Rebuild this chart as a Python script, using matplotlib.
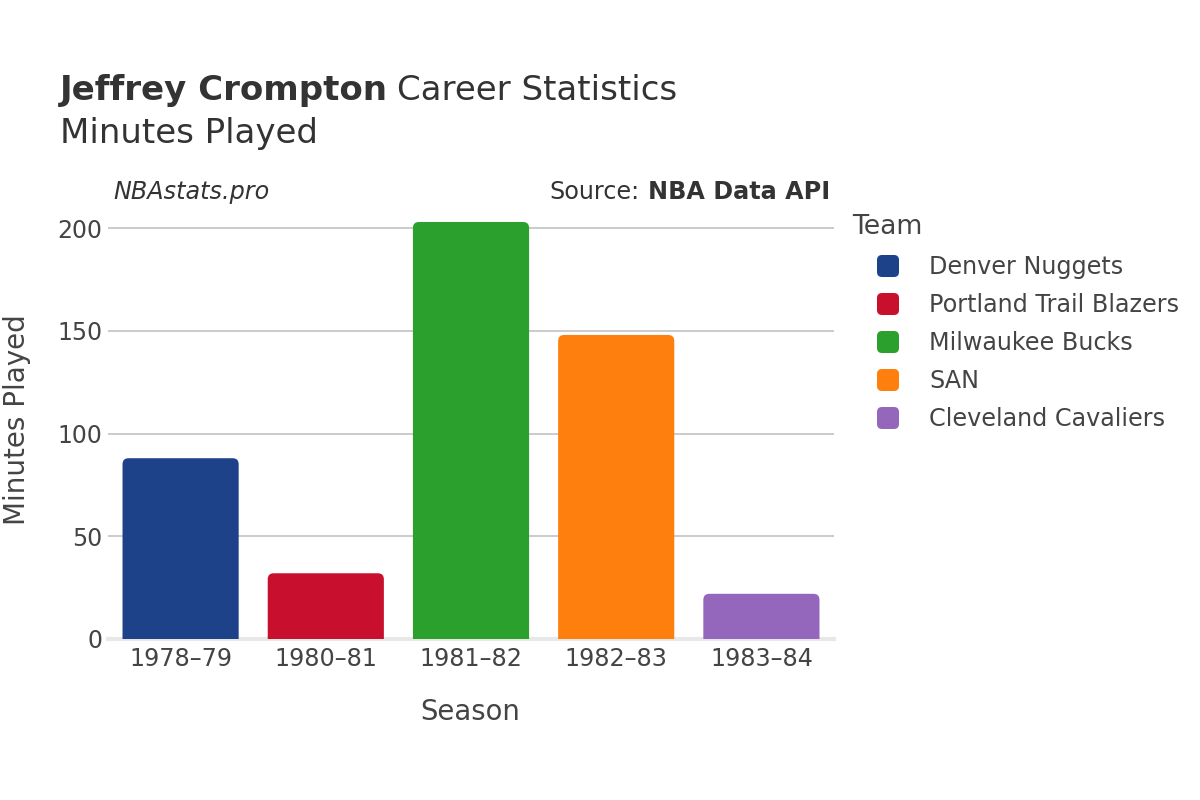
import matplotlib
matplotlib.use("Agg")
import matplotlib.pyplot as plt
from matplotlib.patches import FancyBboxPatch

seasons = ["1978–79", "1980–81", "1981–82", "1982–83", "1983–84"]
teams = ["Denver Nuggets", "Portland Trail Blazers", "Milwaukee Bucks", "SAN", "Cleveland Cavaliers"]
minutes = [88, 32, 203, 148, 22]
colors = ["#1d428a", "#c8102e", "#2ca02c", "#ff7f0e", "#9467bd"]
yticks = [0, 50, 100, 150, 200]

W, H = 1200, 800
TXT = "#444444"
plt.rcParams['font.family'] = ['DejaVu Sans']

fig = plt.figure(figsize=(12, 8), dpi=100)

def fx(px):
    return px / W

def fy(py):
    return 1 - py / H

ax_left, ax_right, ax_top, ax_bottom = 108, 834, 200, 639
ax = fig.add_axes([fx(ax_left), fy(ax_bottom), fx(ax_right - ax_left), (ax_bottom - ax_top) / H])
ymax = 213.7
ax.set_xlim(-0.5, len(seasons) - 0.5)
ax.set_ylim(0, ymax)

px_per_x = (ax_right - ax_left) / len(seasons)
px_per_y = (ax_bottom - ax_top) / ymax
r_px = 6
rs = r_px / px_per_x
aspect = (r_px / px_per_y) / rs

for i, (v, c) in enumerate(zip(minutes, colors)):
    ext = r_px / px_per_y * 1.5
    p = FancyBboxPatch((i - 0.4, -ext), 0.8, v + ext,
                       boxstyle=f"round,pad=0,rounding_size={rs}",
                       mutation_aspect=aspect, facecolor=c, edgecolor='none', zorder=3)
    ax.add_patch(p)

for t in yticks[1:]:
    ax.axhline(t, color="#bdbdbd", lw=1.1, zorder=1)
ax.axhline(0, color="#e8e8e8", lw=3, zorder=2, clip_on=False)

for s in ax.spines.values():
    s.set_visible(False)
ax.set_xticks(range(len(seasons)))
ax.set_xticklabels(seasons, fontsize=17.2, color=TXT)
ax.set_yticks(yticks)
ax.set_yticklabels([str(t) for t in yticks], fontsize=17, color=TXT)
ax.tick_params(axis='both', length=0)
ax.tick_params(axis='y', pad=4)
ax.tick_params(axis='x', pad=6)

fig.text(fx(470), fy(711.5), "Season", fontsize=19.8, color=TXT, ha='center', va='center')
fig.text(fx(17), fy(420), "Minutes Played", fontsize=20, color=TXT, ha='center', va='center', rotation=90)

# Title
t1 = fig.text(fx(60), fy(100), "Jeffrey Crompton", fontsize=24.5, fontweight='bold', color="#333333", va='baseline', ha='left')
fig.canvas.draw()
bb = t1.get_window_extent()
fig.text(bb.x1 / W + fx(9), fy(100), "Career Statistics", fontsize=24.5, color="#333333", va='baseline', ha='left')
fig.text(fx(60), fy(143), "Minutes Played", fontsize=24.5, color="#333333", va='baseline', ha='left')

fig.text(fx(113), fy(199), "NBAstats.pro", fontsize=17.2, style='italic', color="#333333", va='baseline', ha='left')
s2 = fig.text(fx(830), fy(199), "NBA Data API", fontsize=17.2, fontweight='bold', color="#333333", va='baseline', ha='right')
fig.canvas.draw()
bb2 = s2.get_window_extent()
fig.text(bb2.x0 / W - fx(8), fy(199), "Source:", fontsize=17.2, color="#333333", va='baseline', ha='right')

# Legend
fig.text(fx(852), fy(227), "Team", fontsize=19.2, color=TXT, va='center', ha='left')
for k, (team, c) in enumerate(zip(teams, colors)):
    cy = 266 + 38 * k
    sz = 22
    lp = FancyBboxPatch((fx(888 - sz / 2), fy(cy + sz / 2)), fx(sz), sz / H,
                        boxstyle=f"round,pad=0,rounding_size={fx(5)}",
                        mutation_aspect=W / H, facecolor=c, edgecolor='none',
                        transform=fig.transFigure, figure=fig)
    fig.patches.append(lp)
    fig.text(fx(929), fy(cy + 1), team, fontsize=17.2, color=TXT, va='center', ha='left')

fig.savefig("out.png", dpi=100, facecolor='white')
